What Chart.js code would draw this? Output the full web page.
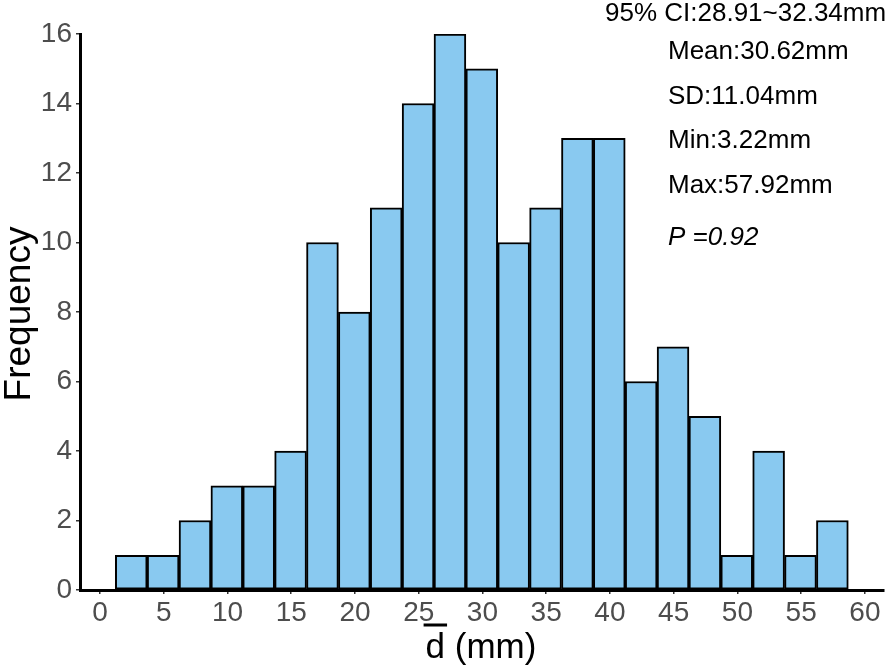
<!DOCTYPE html>
<html>
<head>
<meta charset="utf-8">
<script src="https://cdn.jsdelivr.net/npm/chart.js@4.4.0/dist/chart.umd.min.js"></script>
<style>
  html, body { margin: 0; padding: 0; background: #fff; }
  #chart { display: block; }
</style>
</head>
<body>
<canvas id="chart" width="886" height="668"></canvas>
<script>
// histogram bins (mm) and counts
const binStart = 1.2
const binWidth = 2.5
const counts = [1, 1, 2, 3, 3, 4, 10, 8, 11, 14, 16, 15, 10, 11, 13, 13, 6, 7, 5, 1, 4, 1, 2]

const xTicks = [0, 5, 10, 15, 20, 25, 30, 35, 40, 45, 50, 55, 60]
const yTicks = [0, 2, 4, 6, 8, 10, 12, 14, 16]

const ciLine = "95% CI:28.91~32.34mm"
const statLines = ["Mean:30.62mm", "SD:11.04mm", "Min:3.22mm", "Max:57.92mm"]
const pLabel = "P =0.92"

const yTitle = "Frequency"
const xTitle = "d (mm)"

const points = counts.map((c, i) => ({ x: binStart + binWidth * (i + 0.5), y: c }))

const FONT = 'Arial, "Liberation Sans", sans-serif'

// titles + stats text, drawn on top
const textPlugin = {
    id: "histText",
    afterDraw(chart) {
        const ctx = chart.ctx
        const area = chart.chartArea
        ctx.save()
        ctx.fillStyle = "#000"

        // y title
        ctx.save()
        ctx.translate(30, (area.top + area.bottom) / 2 + 2)
        ctx.rotate(-Math.PI / 2)
        ctx.font = "37px " + FONT
        ctx.textAlign = "center"
        ctx.textBaseline = "alphabetic"
        ctx.fillText(yTitle, 0, 0)
        ctx.restore()

        // x title with bar over the d
        ctx.font = "35px " + FONT
        ctx.textAlign = "left"
        ctx.textBaseline = "alphabetic"
        const w = ctx.measureText(xTitle).width
        const x0 = (area.left + area.right) / 2 - 1 - w / 2
        ctx.fillText(xTitle, x0, 658)
        const dw = ctx.measureText("d").width
        ctx.fillRect(x0 - 2, 623.5, dw + 4, 3)

        // stats
        ctx.font = "26px " + FONT
        ctx.fillText(ciLine, 605, 21)
        statLines.forEach((s, i) => {
            ctx.fillText(s, 668, 59 + i * 44.5)
        })
        ctx.font = "italic 26px " + FONT
        ctx.fillText(pLabel, 668, 245)
        ctx.restore()
    }
}

new Chart(document.getElementById("chart"), {
    type: "bar",
    data: {
        datasets: [{
            data: points,
            backgroundColor: "#89C9F0",
            borderColor: "#000",
            borderWidth: 2,
            borderSkipped: false,
            barPercentage: 1,
            categoryPercentage: 1,
        }]
    },
    options: {
        responsive: false,
        animation: false,
        devicePixelRatio: 1,
        layout: { padding: { top: 34, right: 2, left: 0, bottom: 0 } },
        plugins: {
            legend: { display: false },
            tooltip: { enabled: false },
        },
        scales: {
            x: {
                type: "linear",
                min: -1.57,
                max: 61.5,
                offset: false,
                afterBuildTicks: (scale) => { scale.ticks = xTicks.map(v => ({ value: v })) },
                afterFit: (scale) => { scale.height = 78 },
                border: { display: true, color: "#000", width: 3 },
                grid: { offset: false, drawOnChartArea: false, drawTicks: true, tickLength: 4, color: "#333", lineWidth: 1.5 },
                ticks: { color: "#4d4d4d", font: { family: FONT, size: 28 }, padding: 2, maxRotation: 0, autoSkip: false },
            },
            y: {
                min: 0,
                max: 16,
                afterBuildTicks: (scale) => { scale.ticks = yTicks.map(v => ({ value: v })) },
                afterFit: (scale) => { scale.width = 80 },
                border: { display: true, color: "#000", width: 3 },
                grid: { drawOnChartArea: false, drawTicks: true, tickLength: 4, color: "#333", lineWidth: 1.5 },
                ticks: { color: "#4d4d4d", font: { family: FONT, size: 28 }, padding: 4 },
            }
        }
    },
    plugins: [textPlugin]
})
</script>
</body>
</html>
